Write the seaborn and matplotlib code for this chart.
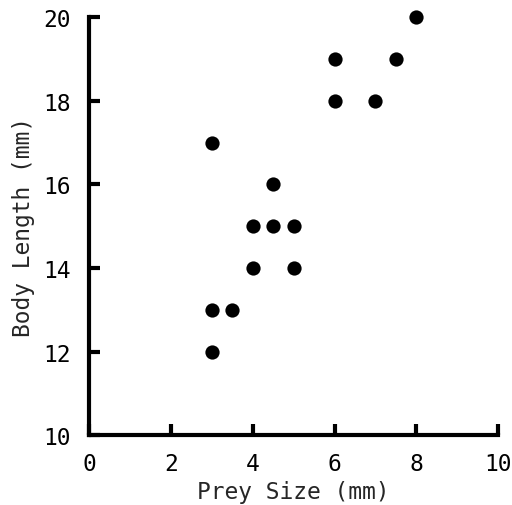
import numpy as np
import pandas as pd
import matplotlib
matplotlib.use("Agg")
import matplotlib.pyplot as plt
import seaborn as sns

# ------------------ DATA ------------------

prey_size = [3, 3, 3.5, 3, 4, 4, 4.5, 4.5, 5, 5, 6, 6, 7, 7.5, 8]
body_length = [17, 13, 13, 12, 15, 14, 16, 15, 15, 14, 19, 18, 18, 19, 20]

x_ticks = [0, 2, 4, 6, 8, 10]
y_ticks = [10, 12, 14, 16, 18, 20]

# ------------------ STYLE ------------------

sns.set_theme(style="ticks")
plt.rcParams["font.family"] = ["DejaVu Sans Mono", "DejaVu Sans"]

df = pd.DataFrame({"prey": prey_size, "body": body_length})

fig = plt.figure(figsize=(5.12, 5.06), dpi=100)
ax = fig.add_axes([0.174, 0.138, 0.799, 0.826])

sns.scatterplot(data=df, x="prey", y="body", ax=ax, color="black",
                s=105, edgecolor="black", linewidth=0, zorder=3, clip_on=False)

ax.set_xlim(0, 10)
ax.set_ylim(10, 20)
ax.set_xticks(x_ticks)
ax.set_yticks(y_ticks)

for side in ["top", "right"]:
    ax.spines[side].set_visible(False)
for side in ["left", "bottom"]:
    ax.spines[side].set_linewidth(3)
    ax.spines[side].set_color("black")

ax.tick_params(direction="in", length=8, width=3, labelsize=16.5,
               colors="black")
ax.tick_params(axis="x", pad=12)
ax.tick_params(axis="y", pad=13)

ax.set_xlabel("Prey Size (mm)", fontsize=16.5, labelpad=4)
ax.set_ylabel("Body Length (mm)", fontsize=16.5, labelpad=6)

fig.savefig("out.png", dpi=100)
